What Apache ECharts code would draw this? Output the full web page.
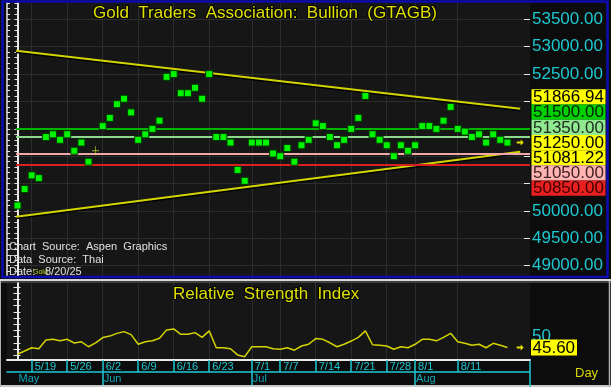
<!DOCTYPE html>
<html><head><meta charset="utf-8">
<script src="https://cdn.jsdelivr.net/npm/echarts@6/dist/echarts.min.js"></script>
<style>html,body{margin:0;padding:0;background:#0c0c0c;}#c{width:611px;height:387px;}</style>
</head><body><div id="c"></div>
<script>
// ---------- data ----------
const dates = ['5/15','5/16','5/19','5/20','5/21','5/22','5/23','5/26','5/27','5/28','5/29','5/30',
'6/2','6/3','6/4','6/5','6/6','6/9','6/10','6/11','6/12','6/13','6/16','6/17','6/18','6/19','6/20',
'6/23','6/24','6/25','6/26','6/27','6/30','7/1','7/2','7/3','7/4','7/7','7/8','7/9','7/10','7/11',
'7/14','7/15','7/16','7/17','7/18','7/21','7/22','7/23','7/24','7/25','7/28','7/29','7/30','7/31',
'8/1','8/4','8/5','8/6','8/7','8/8','8/11','8/12','8/13','8/14','8/15','8/18','8/19','8/20'];
const close = [50100,50400,50650,50600,51350,51400,51300,51400,51100,51250,
50900,51100,51550,51700,51950,52050,51800,51300,51400,51500,
51650,52450,52500,52150,52150,52250,52050,52500,51350,51350,
51250,50750,50550,51250,51250,51250,51050,51000,51150,50900,
51200,51300,51600,51550,51350,51200,51300,51500,51700,52100,
51400,51300,51200,51000,51200,51100,51200,51550,51550,51500,
51650,51900,51500,51450,51350,51400,51250,51400,51300,51250];
const dojiDates = ['5/30'];
const rsi = [42.9,44.2,45.5,45.1,48.6,48.9,48.3,48.9,47.4,47.9,
45.9,47.5,49.6,50.2,51.3,52.0,50.8,46.9,47.9,48.3,
49.3,52.7,53.1,50.9,50.9,51.6,49.7,52.3,45.5,45.5,
45.1,42.6,41.9,45.9,45.9,45.9,45.1,44.9,45.5,44.5,
46.2,46.9,49.2,48.9,47.5,45.9,46.9,48.2,49.7,52.3,
46.7,46.5,46.2,44.9,45.9,45.5,46.9,48.9,48.9,48.3,
49.7,51.3,47.9,47.3,46.5,46.9,45.5,47.3,46.5,45.6];
const upperTrend = [[-0.2, 52925], [70.8, 51866.94]];
const lowerTrend = [[-0.2, 49896], [70.8, 51081.22]];
const levels = [51500, 51350, 51050, 50850];
const dateTickLabels = ['5/19','5/26','6/2','6/9','6/16','6/23','7/1','7/7','7/14','7/21','7/28','8/1','8/11'];
const months = ['May','Jun','Jul','Aug'];
const monthStarts = ['5/15','6/2','7/1','8/1'];
const priceTickLabels = [49000, 49500, 50000, 52500, 53000, 53500];
const priceGrid = [49000,49500,50000,50500,51000,51500,52000,52500,53000,53500];
const rsiTickLabels = [50];
const rsiTicks = [42.5,45,47.5,50,52.5,55,57.5,60,62.5,65,67.5,70];

// ---------- styles ----------
const X_MIN = -1.48, X_MAX = 72.18;
const CYAN = '#1ec8d2', YEL = '#e0e000', GRID = '#2c2c2c', WHITE = '#e8e8e8';
const levelColors = {51500:'#00b400', 51350:'#8cd88c', 51050:'#f0a8a8', 50850:'#d82020'};
const boxStyle = {
  '51866.94': ['#ffff00','#000'], '51500.00': ['#00d000','#002000'], '51350.00': ['#90e890','#203020'],
  '51250.00': ['#ffff00','#000'], '51081.22': ['#ffff00','#000'], '51050.00': ['#ffb4b4','#402020'],
  '50850.00': ['#e82020','#400000']
};

const idx = d => dates.indexOf(d);
const tickIdx = dateTickLabels.map(idx);
const monthIdx = monthStarts.map(idx);
const lastIdx = close.length - 1;
const projIdx = upperTrend[1][0];

const squares = [], dojis = [];
close.forEach((v, i) => (dojiDates.includes(dates[i]) ? dojis : squares).push([i, v]));

const chart = echarts.init(document.getElementById('c'));
const F = 'Liberation Sans, Arial, sans-serif';
const NARROW = 'Liberation Sans Narrow, Liberation Sans, Arial, sans-serif';

const option = {
  backgroundColor: '#0c0c0c',
  animation: false,
  grid: [
    {left: 7, right: 81, top: 2.9, height: 273.8, show: true, backgroundColor: '#161616', borderWidth: 0},
    {left: 7, right: 81, top: 283, height: 77, show: true, backgroundColor: '#161616', borderWidth: 0}
  ],
  xAxis: [
    {gridIndex: 0, type: 'value', min: X_MIN, max: X_MAX, axisLine: {show: false},
     axisTick: {show: false, customValues: tickIdx}, axisLabel: {show: false},
     splitLine: {show: true, lineStyle: {color: GRID, width: 1}}},
    {gridIndex: 1, type: 'value', min: X_MIN, max: X_MAX, position: 'bottom',
     axisLine: {show: true, onZero: false, lineStyle: {color: WHITE, width: 2}},
     axisTick: {show: true, customValues: tickIdx, length: 12, lineStyle: {color: CYAN, width: 1.5}},
     axisLabel: {show: true, customValues: tickIdx, formatter: v => dates[Math.round(v)], color: CYAN,
       fontSize: 11, fontFamily: NARROW, align: 'left', padding: [0, 0, 0, 3], margin: 1},
     splitLine: {show: true, lineStyle: {color: GRID, width: 1}}},
    {gridIndex: 1, type: 'value', min: X_MIN, max: X_MAX, position: 'bottom', offset: 12,
     axisLine: {show: true, onZero: false, lineStyle: {color: CYAN, width: 1.5}},
     axisTick: {show: true, customValues: monthIdx.filter(i => i > 0), length: 14, lineStyle: {color: CYAN, width: 1.5}},
     axisLabel: {show: true, customValues: monthIdx, formatter: v => months[monthIdx.indexOf(Math.round(v))],
       color: '#10a8b8', fontSize: 11, fontFamily: NARROW, align: 'left', padding: [0, 0, 0, 1], margin: 1},
     splitLine: {show: false}}
  ],
  yAxis: [
    {gridIndex: 0, type: 'value', position: 'right', min: 48800, max: 53800, interval: 100,
     axisLine: {show: true, lineStyle: {color: WHITE, width: 2}},
     axisTick: {show: true, inside: true, length: 3, lineStyle: {color: WHITE}},
     axisLabel: {show: false}, splitLine: {show: false}},
    {gridIndex: 0, type: 'value', position: 'right', min: 48800, max: 53800,
     axisLine: {show: false},
     axisTick: {show: true, inside: true, length: 6, customValues: priceGrid, lineStyle: {color: WHITE}},
     axisLabel: {show: true, customValues: priceTickLabels, formatter: v => v.toFixed(2), color: CYAN,
       fontSize: 17, fontFamily: F, margin: 2},
     splitLine: {show: true, lineStyle: {color: GRID, width: 1}}},
    {gridIndex: 0, type: 'value', position: 'left', min: 48800, max: 53800, interval: 100,
     axisLine: {show: true, lineStyle: {color: WHITE, width: 1.5}},
     axisTick: {show: true, inside: true, length: 3, lineStyle: {color: WHITE}},
     axisLabel: {show: false}, splitLine: {show: false}},
    {gridIndex: 1, type: 'value', position: 'right', min: 40.56, max: 71.6,
     axisLine: {show: true, lineStyle: {color: WHITE, width: 2}},
     axisTick: {show: true, inside: true, length: 4, customValues: rsiTicks, lineStyle: {color: WHITE}},
     axisLabel: {show: true, customValues: rsiTickLabels, formatter: v => String(v), color: CYAN,
       fontSize: 17, fontFamily: F, margin: 2},
     splitLine: {show: false}},
    {gridIndex: 1, type: 'value', position: 'left', min: 40.56, max: 71.6,
     axisLine: {show: true, lineStyle: {color: WHITE, width: 1.5}},
     axisTick: {show: true, inside: true, length: 3, customValues: rsiTicks, lineStyle: {color: WHITE}},
     axisLabel: {show: false}, splitLine: {show: false}}
  ],
  series: [
    {type: 'line', xAxisIndex: 0, yAxisIndex: 1, data: [], silent: true,
     markLine: {silent: true, symbol: 'none', label: {show: false},
       data: levels.map(v => [
         {coord: [upperTrend[0][0], v], lineStyle: {color: levelColors[v], width: 2, type: 'solid'}},
         {coord: [X_MAX, v]}])}},
    {type: 'line', xAxisIndex: 0, yAxisIndex: 1, data: upperTrend, symbol: 'none', silent: true,
     lineStyle: {color: '#d4d400', width: 2, shadowColor: '#000', shadowBlur: 0, shadowOffsetY: 1.5}},
    {type: 'line', xAxisIndex: 0, yAxisIndex: 1, data: lowerTrend, symbol: 'none', silent: true,
     lineStyle: {color: '#d4d400', width: 2, shadowColor: '#000', shadowBlur: 0, shadowOffsetY: 1.5}},
    {type: 'scatter', xAxisIndex: 0, yAxisIndex: 1, data: squares, symbol: 'rect', symbolSize: 7, z: 5,
     itemStyle: {color: '#00f400', borderColor: '#003a00', borderWidth: 1, opacity: 1},
     markPoint: {silent: true, symbol: 'path://M0,2H4V0L7,3L4,6V4H0Z', symbolSize: [7, 6],
       itemStyle: {color: YEL}, label: {show: false},
       data: [{coord: [projIdx, close[lastIdx]]}]}},
    {type: 'scatter', xAxisIndex: 0, yAxisIndex: 1, data: dojis, symbol: 'path://M0,4H9V5H0Z M4,0H5V9H4Z',
     symbolSize: [7, 9], z: 5, itemStyle: {color: '#c8dc20'}},
    {type: 'line', xAxisIndex: 1, yAxisIndex: 3, data: rsi.map((v, i) => [i, v]), symbol: 'none', silent: true,
     lineStyle: {color: '#d4d400', width: 1.5},
     markPoint: {silent: true, symbol: 'path://M0,2H4V0L7,3L4,6V4H0Z', symbolSize: [7, 6],
       itemStyle: {color: YEL}, label: {show: false},
       data: [{coord: [projIdx, rsi[lastIdx]]}]}}
  ]
};
chart.setOption(option);

// ---------- value boxes & text (layout from the chart's own scales) ----------
const lastPrice = close[lastIdx];
const boxVals = [upperTrend[1][1], ...levels, lastPrice, lowerTrend[1][1]].sort((a, b) => b - a);
const py = v => chart.convertToPixel({gridIndex: 0}, [0, v])[1];
const anchor = boxVals.indexOf(lastPrice);
const BH = 15.2, BX = 531.5, BW = 74;
const g = [];
boxVals.forEach((v, i) => {
  const cy = py(lastPrice) + (i - anchor) * BH;
  const key = v.toFixed(2);
  const st = boxStyle[key] || ['#ffff00', '#000'];
  g.push({type: 'rect', z: 100, shape: {x: BX, y: cy - BH / 2, width: BW, height: BH}, style: {fill: st[0]}});
  g.push({type: 'text', z: 101, x: BX + 1.5, y: cy + 0.5,
    style: {text: key, fill: st[1], font: '17px ' + F, textVerticalAlign: 'middle', textAlign: 'left'}});
});
const ry = chart.convertToPixel({gridIndex: 1}, [0, rsi[lastIdx]])[1];
g.push({type: 'rect', z: 100, shape: {x: 531, y: ry - 8, width: 46, height: 16}, style: {fill: '#ffff00'}});
g.push({type: 'text', z: 101, x: 532.5, y: ry + 0.5,
  style: {text: rsi[lastIdx].toFixed(2), fill: '#000', font: '17px ' + F, textVerticalAlign: 'middle'}});

// titles and notes
g.push({type: 'text', z: 50, x: 93, y: 13,
  style: {text: 'Gold  Traders  Association:  Bullion  (GTAGB)', fill: YEL, font: '17px ' + F,
    textVerticalAlign: 'middle', stroke: '#000', lineWidth: 2}});
g.push({type: 'text', z: 50, x: 173, y: 294,
  style: {text: 'Relative  Strength  Index', fill: YEL, font: '17px ' + F,
    textVerticalAlign: 'middle', stroke: '#000', lineWidth: 2}});
const note = (t, x, y, col, size) => g.push({type: 'text', z: 50, x, y,
  style: {text: t, fill: col, font: size + 'px ' + F, textVerticalAlign: 'middle'}});
note('Chart  Source:  Aspen  Graphics', 9, 246.5, '#e0e0e0', 11);
note('Data  Source:  Thai', 9, 259.5, '#e0e0e0', 11);
note('Date:', 9, 272, '#e0e0e0', 11);
note('Gold', 33, 272.5, '#b8c820', 7);
note('8/20/25', 45, 272, '#e0e0e0', 11);
note('Day', 575, 373.5, '#d8d800', 13);

// frames
g.push({type: 'rect', z: 90, shape: {x: 2.5, y: 1.5, width: 605, height: 275.5},
  style: {fill: 'none', stroke: '#0c0cb0', lineWidth: 2.5}});
g.push({type: 'line', z: 90, shape: {x1: 0, y1: 280, x2: 611, y2: 280}, style: {stroke: '#d8d8d8', lineWidth: 2}});
g.push({type: 'line', z: 90, shape: {x1: 0, y1: 282, x2: 611, y2: 282}, style: {stroke: '#707070', lineWidth: 1}});
g.push({type: 'line', z: 90, shape: {x1: 0, y1: 386, x2: 611, y2: 386}, style: {stroke: '#c8c8c8', lineWidth: 2}});
g.push({type: 'line', z: 90, shape: {x1: 0.5, y1: 281, x2: 0.5, y2: 387}, style: {stroke: '#b0b0b0', lineWidth: 1}});
g.push({type: 'line', z: 90, shape: {x1: 609.5, y1: 281, x2: 609.5, y2: 387}, style: {stroke: '#b0b0b0', lineWidth: 1.5}});
g.push({type: 'line', z: 90, shape: {x1: 530, y1: 361, x2: 530, y2: 387}, style: {stroke: CYAN, lineWidth: 1.5}});

chart.setOption({graphic: g});
</script></body></html>
